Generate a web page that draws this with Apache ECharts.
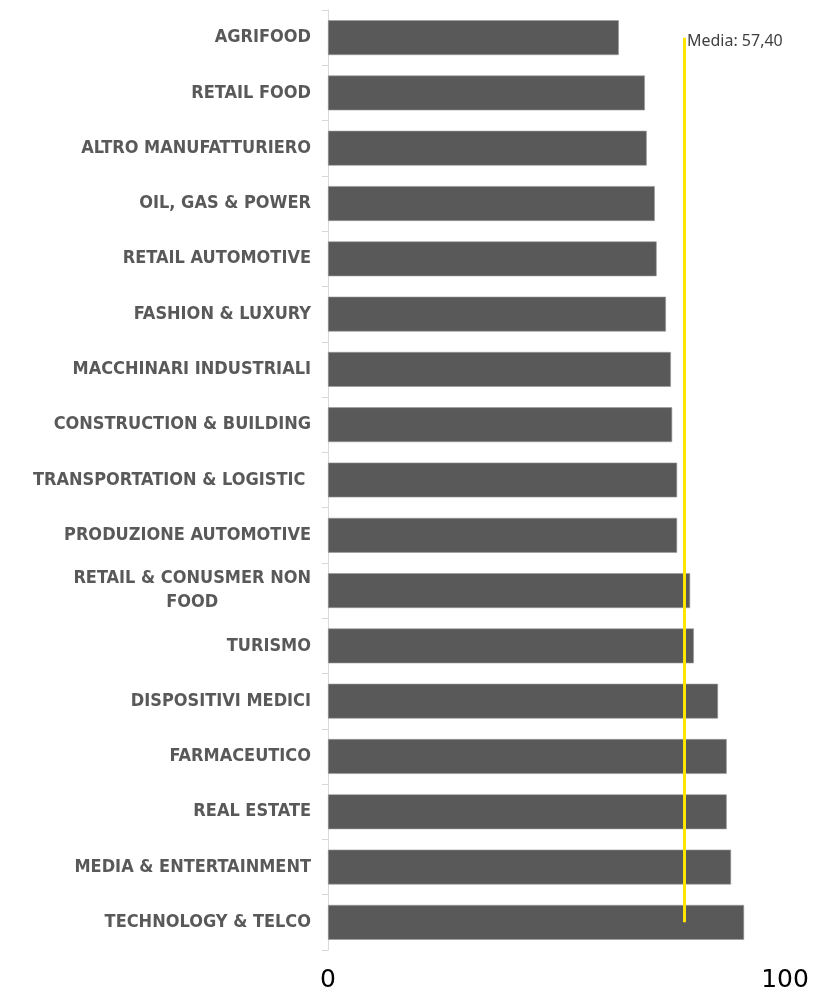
<!DOCTYPE html>
<html>
<head>
<meta charset="utf-8">
<script src="https://cdn.jsdelivr.net/npm/echarts@6/dist/echarts.min.js"></script>
<style>html,body{margin:0;padding:0;background:#fff}#c{width:813px;height:991px}</style>
</head>
<body>
<div id="c"></div>
<script>
const categories = [
  "AGRIFOOD",
  "RETAIL FOOD",
  "ALTRO MANUFATTURIERO",
  "OIL, GAS & POWER",
  "RETAIL AUTOMOTIVE",
  "FASHION & LUXURY",
  "MACCHINARI INDUSTRIALI",
  "CONSTRUCTION & BUILDING",
  "TRANSPORTATION & LOGISTIC ",
  "PRODUZIONE AUTOMOTIVE",
  "RETAIL & CONUSMER NON\nFOOD",
  "TURISMO",
  "DISPOSITIVI MEDICI",
  "FARMACEUTICO",
  "REAL ESTATE",
  "MEDIA & ENTERTAINMENT",
  "TECHNOLOGY & TELCO"
];
const values = [46.9, 51.1, 51.4, 52.7, 53.0, 54.5, 55.3, 55.5, 56.3, 56.3, 58.4, 59.0, 62.9, 64.3, 64.3, 65.0, 67.1];
const mediaValue = 57.40;
const mediaLabel = "Media: 57,40";
const axisMax = 73.7;
const tickLabels = ["0", "100"];

const chart = echarts.init(document.getElementById('c'), null, {renderer: 'canvas'});
chart.setOption({
  animation: false,
  backgroundColor: '#ffffff',
  grid: {left: 328, right: 28, top: 10, bottom: 41, containLabel: false, outerBoundsMode: 'none'},
  xAxis: {
    type: 'value',
    min: 0,
    max: axisMax,
    interval: axisMax,
    axisLine: {show: false},
    axisTick: {show: false},
    splitLine: {show: false},
    axisLabel: {
      show: true,
      showMinLabel: true,
      showMaxLabel: true,
      margin: 18,
      fontFamily: 'DejaVu Sans',
      fontSize: 25,
      color: '#000000',
      formatter: function (v) { return v === 0 ? tickLabels[0] : tickLabels[1]; }
    }
  },
  yAxis: {
    type: 'category',
    inverse: true,
    data: categories,
    axisLine: {show: true, lineStyle: {color: '#d9d9d9', width: 1}},
    axisTick: {show: true, length: 6, lineStyle: {color: '#d9d9d9'}},
    axisLabel: {
      margin: 17,
      align: 'right',
      formatter: function (v) { return v.split('\n').map(function (l) { return '{a|' + l + '}'; }).join('\n'); },
      rich: {
        a: {
          align: 'center',
          fontFamily: 'DejaVu Sans Condensed',
          fontWeight: 'bold',
          fontSize: 18,
          lineHeight: 24,
          color: '#595959'
        }
      }
    }
  },
  series: [{
    type: 'bar',
    data: values,
    barCategoryGap: '37%',
    itemStyle: {color: '#595959', borderColor: '#9a9a9a', borderWidth: 0.6},
    silent: true,
    markLine: {
      silent: true,
      symbol: ['none', 'none'],
      lineStyle: {color: '#FFE600', width: 3, type: 'solid'},
      label: {show: false},
      data: [[
        {coord: [mediaValue, categories[0]]},
        {coord: [mediaValue, categories[categories.length - 1]]}
      ]]
    },
    markPoint: {
      silent: true,
      symbol: 'circle',
      symbolSize: 0,
      data: [{coord: [mediaValue, categories[0]]}],
      label: {
        show: true,
        position: 'right',
        distance: 3,
        offset: [0, 4],
        formatter: mediaLabel,
        fontFamily: 'Noto Sans',
        fontSize: 16,
        color: '#3f3f3f'
      }
    }
  }]
});
</script>
</body>
</html>
